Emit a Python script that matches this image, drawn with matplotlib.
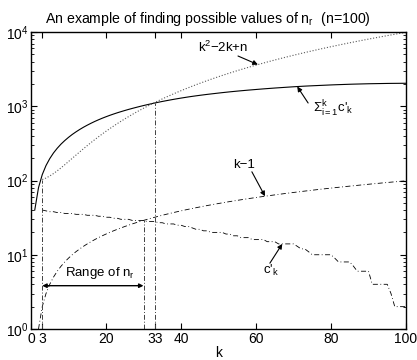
import numpy as np
import matplotlib
matplotlib.use("Agg")
import matplotlib.pyplot as plt

plt.rcParams['font.family'] = ['Liberation Sans', 'DejaVu Sans']
plt.rcParams['mathtext.fontset'] = 'custom'
plt.rcParams['mathtext.rm'] = 'Liberation Sans'
plt.rcParams['mathtext.it'] = 'Liberation Sans:italic'
plt.rcParams['mathtext.bf'] = 'Liberation Sans:bold'

# data
n = 100
k = np.arange(1, 101)
c_prime = [40, 40, 40, 39, 38, 38, 37, 37, 36, 36,
           36, 35, 35, 35, 34, 34, 34, 33, 33, 32,
           32, 31, 31, 30, 30, 30, 29, 29, 29, 29,
           28, 28, 28, 27, 27, 26, 26, 26, 25, 25,
           24, 24, 23, 22, 22, 21, 21, 20, 20, 20,
           20, 19, 19, 18, 18, 17, 17, 17, 16, 16,
           16, 16, 15, 15, 15, 14, 14, 14, 14, 14,
           13, 12, 12, 11, 10, 10, 10, 10, 10, 10,
           9, 8, 8, 8, 8, 7, 6, 6, 6, 6,
           4, 4, 4, 4, 4, 3, 2, 2, 2, 2]
k_lo = 3
k_hi = 30
k_star = 33
xticks = [0, 3, 20, 33, 40, 60, 80, 100]

c_prime = np.array(c_prime, dtype=float)
c_sum = np.cumsum(c_prime)
quad = k**2 - 2*k + n
lin = k - 1

fig = plt.figure(figsize=(4.17, 3.6), dpi=100)
ax = fig.add_axes([31/417, 1-329/360, 375/417, 297/360])

dashdot = (0, (6, 3, 1, 3))
ax.plot(k, c_sum, '-', color='k', lw=0.8)
ax.plot(k[k >= 3], quad[k >= 3], ':', color='0.35', lw=0.8)
ax.plot(k[k >= 2], lin[k >= 2], linestyle=dashdot, color='k', lw=0.6)
ax.plot(k[k >= 3], c_prime[k >= 3], linestyle=dashdot, color='k', lw=0.6)

# guide lines
vl = dict(color='0.25', lw=0.7, linestyle=(0, (5, 2, 1, 2)))
ax.vlines(k_lo, 1, quad[k_lo-1], **vl)
ax.vlines(k_hi, 1, lin[k_hi-1], **vl)
ax.vlines(k_star, 1, c_sum[k_star-1], **vl)

arr = dict(arrowstyle='-|>', color='k', lw=0.8, shrinkA=0, shrinkB=0,
           mutation_scale=7)
ax.annotate('', xy=(k_hi, 3.83), xytext=(k_lo, 3.83),
            arrowprops=dict(arrowstyle='<|-|>', color='k', lw=1.0,
                            shrinkA=0, shrinkB=0, mutation_scale=6))
ax.text(18.4, 5.2, r'Range of n$_\mathrm{r}$', fontsize=9.5, ha='center', va='baseline')

ax.annotate('', xy=(60.5, 60.5**2 - 2*60.5 + n), xytext=(55.2, 4750), arrowprops=arr)
ax.text(44.5, 5330, r'k$^\mathrm{2}$' + '\u22122k+n', fontsize=9.5, va='baseline')

ax.annotate('', xy=(71, c_sum[70]), xytext=(73.9, 1106), arrowprops=arr)
ax.text(75.2, 804, r"$\Sigma^\mathrm{k}_\mathrm{i=1}$c'$_\mathrm{k}$", fontsize=9.5, va='baseline')

ax.annotate('', xy=(62.4, 61.4), xytext=(58.9, 131), arrowprops=arr)
ax.text(53.9, 146, 'k\u22121', fontsize=9.5, va='baseline')

ax.annotate('', xy=(67, c_prime[66]), xytext=(63.7, 7.7), arrowprops=arr)
ax.text(61.9, 5.45, r"c'$_\mathrm{k}$", fontsize=9.5, va='baseline')

ax.set_yscale('log')
ax.set_xlim(0, 100)
ax.set_ylim(1, 1e4)
ax.set_xticks(xticks)
ax.tick_params(which='both', direction='in', top=True, right=True, labelsize=10)
ax.tick_params(which='major', length=4, pad=2)
ax.tick_params(which='minor', length=2)
ax.tick_params(axis='x', which='minor', bottom=False, top=False)
for s in ax.spines.values():
    s.set_linewidth(1.0)
ax.set_xlabel('k', fontsize=10, labelpad=0)

fig.text(208/417, 1-23.3/360, r'An example of finding possible values of n$_\mathrm{r}$  (n=100)',
         fontsize=10.2, ha='center', va='baseline')

fig.savefig('out.png', dpi=100)
